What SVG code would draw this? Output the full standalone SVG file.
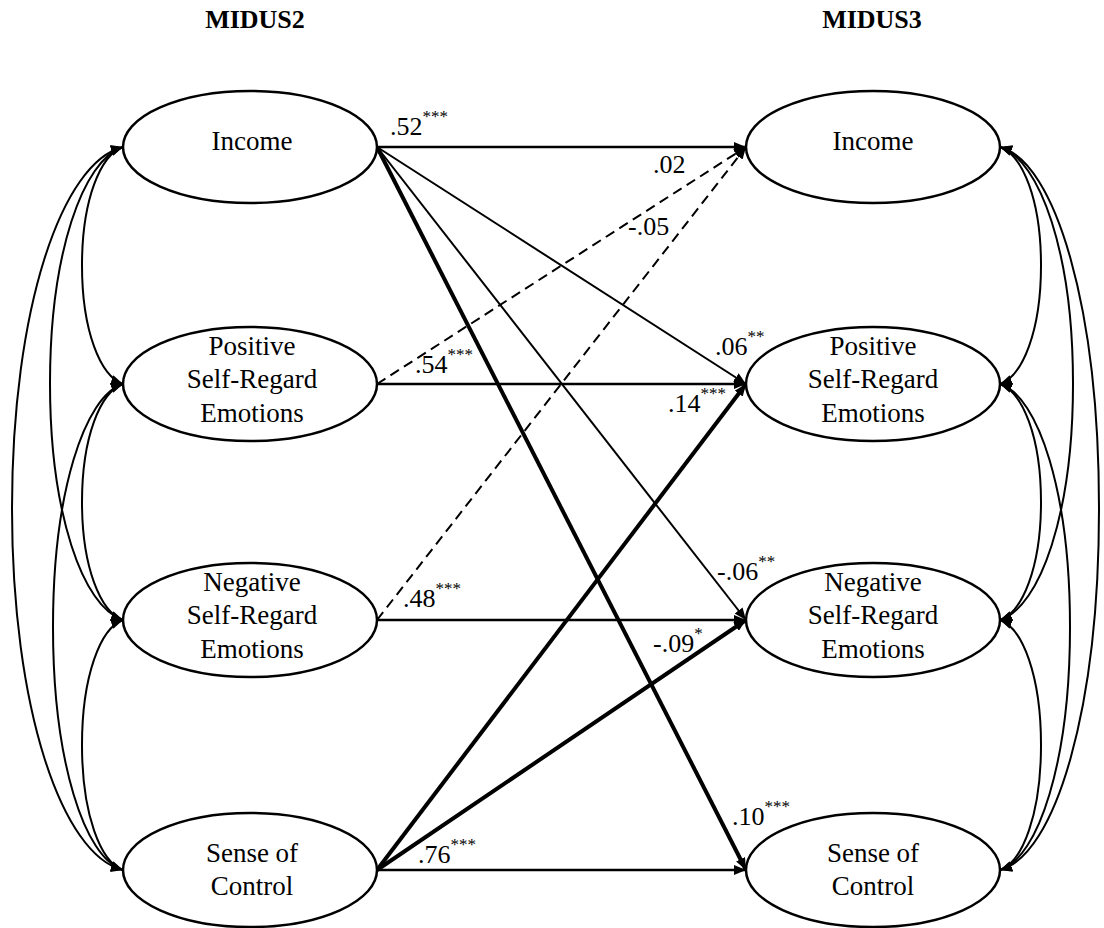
<svg xmlns="http://www.w3.org/2000/svg" width="1104" height="928" viewBox="0 0 1104 928">
<style>
.node ellipse{fill:#fff;stroke:#000;stroke-width:2.5}
text{font-family:'Liberation Serif','Times New Roman',Times,serif;fill:#000}
.node text{font-size:27px;text-anchor:middle}
.title{font-size:26px;font-weight:bold;text-anchor:middle}
.lbl{font-size:26px;text-anchor:start}
.sup{font-size:17px}
.cov{fill:none;stroke:#000;stroke-width:2;marker-start:url(#ah);marker-end:url(#ah)}
.p{fill:none;stroke:#000;marker-end:url(#ah)}
.thin{stroke-width:2}
.mid{stroke-width:2.5}
.thick{stroke-width:4}
.dash{stroke-width:2;stroke-dasharray:10 6}
</style>
<defs>
<marker id="ah" viewBox="0 0 12 10" refX="12" refY="5" markerWidth="12" markerHeight="10" markerUnits="userSpaceOnUse" orient="auto-start-reverse">
<path d="M0,0 L12,5 L0,10 z" fill="#000"/>
</marker>
</defs>
<rect width="1104" height="928" fill="#fff"/>
<g id="titles">
<text class="title" x="255" y="28">MIDUS2</text>
<text class="title" x="872" y="28">MIDUS3</text>
</g>

<g id="connectors">
<path class="cov" d="M123,147 C100.4,155 82,200 82,265.5 S100.4,376 123,384"/>
<path class="cov" d="M123,147 C82.7,160 50,254 50,383.5 S82.7,607 123,620"/>
<path class="cov" d="M123,147 C61.7,162 12,309 12,508.5 S61.7,855 123,870"/>
<path class="cov" d="M123,384 C100.4,392 82,437 82,502 S100.4,612 123,620"/>
<path class="cov" d="M123,384 C84.4,396 53,493 53,627 S84.4,858 123,870"/>
<path class="cov" d="M123,620 C100.4,628 82,676 82,745 S100.4,862 123,870"/>
<path class="cov" d="M1000,147 C1022.6,155 1041,200 1041,265.5 S1022.6,376 1000,384"/>
<path class="cov" d="M1000,147 C1040.3,160 1073,254 1073,383.5 S1040.3,607 1000,620"/>
<path class="cov" d="M1000,147 C1056,162 1099,309 1099,508.5 S1056,855 1000,870"/>
<path class="cov" d="M1000,384 C1022.6,392 1041,437 1041,502 S1022.6,612 1000,620"/>
<path class="cov" d="M1000,384 C1038.6,396 1070,493 1070,627 S1038.6,858 1000,870"/>
<path class="cov" d="M1000,620 C1022.6,628 1041,676 1041,745 S1022.6,862 1000,870"/>
<path class="p mid" d="M377,147 L746,147"/>
<path class="p thin" d="M377,147 L746,384"/>
<path class="p thin" d="M377,147 L746,620"/>
<path class="p thick" d="M377,147 L746,870"/>
<path class="p dash" d="M377,384 L746,147"/>
<path class="p mid" d="M377,384 L746,384"/>
<path class="p dash" d="M377,620 L746,147"/>
<path class="p mid" d="M377,620 L746,620"/>
<path class="p thick" d="M377,870 L746,384"/>
<path class="p thick" d="M377,870 L746,620"/>
<path class="p mid" d="M377,870 L746,870"/>
</g>

<g id="labels">
<text class="lbl" x="390" y="135">.52<tspan class="sup" dy="-13">***</tspan></text>
<text class="lbl" x="653" y="173">.02</text>
<text class="lbl" x="628" y="235">-.05</text>
<text class="lbl" x="715" y="355">.06<tspan class="sup" dy="-13">**</tspan></text>
<text class="lbl" x="415" y="373">.54<tspan class="sup" dy="-13">***</tspan></text>
<text class="lbl" x="668" y="412">.14<tspan class="sup" dy="-13">***</tspan></text>
<text class="lbl" x="717" y="580">-.06<tspan class="sup" dy="-13">**</tspan></text>
<text class="lbl" x="403" y="607">.48<tspan class="sup" dy="-13">***</tspan></text>
<text class="lbl" x="653" y="652">-.09<tspan class="sup" dy="-13">*</tspan></text>
<text class="lbl" x="732" y="825">.10<tspan class="sup" dy="-13">***</tspan></text>
<text class="lbl" x="418" y="863">.76<tspan class="sup" dy="-13">***</tspan></text>
</g>

<g id="m2-income" class="node"><ellipse cx="250" cy="147" rx="127" ry="56"/><text x="252" y="150">Income</text></g>
<g id="m2-positive" class="node"><ellipse cx="250" cy="384" rx="127" ry="57"/><text x="252" y="355">Positive</text><text x="252" y="388">Self-Regard</text><text x="252" y="422">Emotions</text></g>
<g id="m2-negative" class="node"><ellipse cx="250" cy="620" rx="127" ry="57"/><text x="252" y="591">Negative</text><text x="252" y="624">Self-Regard</text><text x="252" y="658">Emotions</text></g>
<g id="m2-control" class="node"><ellipse cx="250" cy="870" rx="127" ry="57"/><text x="252" y="862">Sense of</text><text x="252" y="895">Control</text></g>

<g id="m3-income" class="node"><ellipse cx="873" cy="147" rx="127" ry="56"/><text x="873" y="150">Income</text></g>
<g id="m3-positive" class="node"><ellipse cx="873" cy="384" rx="127" ry="57"/><text x="873" y="355">Positive</text><text x="873" y="388">Self-Regard</text><text x="873" y="422">Emotions</text></g>
<g id="m3-negative" class="node"><ellipse cx="873" cy="620" rx="127" ry="57"/><text x="873" y="591">Negative</text><text x="873" y="624">Self-Regard</text><text x="873" y="658">Emotions</text></g>
<g id="m3-control" class="node"><ellipse cx="873" cy="870" rx="127" ry="57"/><text x="873" y="862">Sense of</text><text x="873" y="895">Control</text></g>
</svg>
